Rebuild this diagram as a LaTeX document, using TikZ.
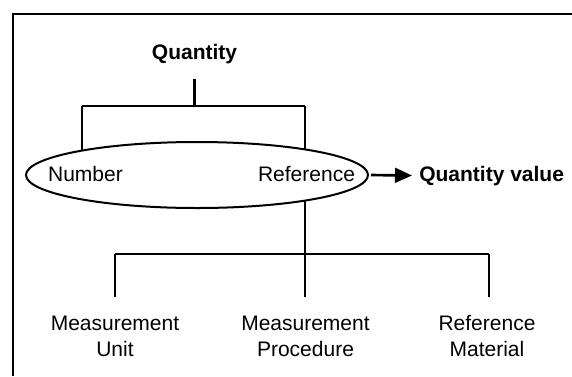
\documentclass[tikz,border=0pt]{standalone}
\usepackage{fontspec}
\setmainfont{Liberation Sans}
\usetikzlibrary{arrows.meta,backgrounds,shapes.geometric}
\begin{document}
\begin{tikzpicture}[x=0.75pt,y=-0.75pt,
  txt/.style={font=\fontsize{15.75}{19.5}\selectfont, inner sep=0pt, align=center, anchor=base},
  bold/.style={txt, font=\fontsize{15.75}{19.5}\selectfont\bfseries},
  link/.style={line width=2pt},
  framerule/.style={line width=1.9pt},
  oval/.style={ellipse, draw, line width=1.5pt, fill=white,
    minimum width=256.5pt, minimum height=49.5pt, inner sep=0pt}]
\useasboundingbox (0,0) rectangle (572,376);

% outer frame (left and top rules)
\draw[framerule] (572,14) -- (13,14) -- (13,376);

% quantity as number + reference
\node[oval] (ell) at (197,175) {};
\node[txt] (num) at (85.5,181) {Number};
\node[txt] (ref) at (306.5,181) {Reference};
\node[bold] (q) at (194.5,59.5) {Quantity};
\node[bold, anchor=base west] (qv) at (419,181) {Quantity value};

% kinds of reference (base = baseline of the second line)
\node[txt] (mu) at (115,356.7) {Measurement\\Unit};
\node[txt] (mp) at (305.5,356.7) {Measurement\\Procedure};
\node[txt] (rm) at (487,356.7) {Reference\\Material};

% junction points of the brackets
\coordinate (a1) at (82,106);
\coordinate (a2) at (305,106);
\coordinate (a0) at (q.south |- a1);
\coordinate (b1) at (115,254);
\coordinate (b3) at (489,254);
\coordinate (b2) at (a2 |- b1);

% vertical legs that meet the oval run behind it
\begin{scope}[on background layer]
  \draw[link] (a1) -- (a1 |- ell.center);
  \draw[link] (a2) -- (b2);
\end{scope}

% upper bracket
\draw[link, shorten <=11.25pt] (q.south) -- (a0);
\draw[link] (a1) -- (a2);

% lower bracket
\draw[link] (b1) -- (b3);
\draw[link, shorten >=14pt] (b1) -- (b1 |- mu.north);
\draw[link, shorten >=14pt] (b2) -- (b2 |- mp.north);
\draw[link, shorten >=14pt] (b3) -- (b3 |- rm.north);

% result arrow
\draw[link, -{Triangle[length=12.75pt,width=11pt]}, shorten <=1.5pt, shorten >=5.25pt]
  (ell.east) -- (qv.west);
\end{tikzpicture}
\end{document}
